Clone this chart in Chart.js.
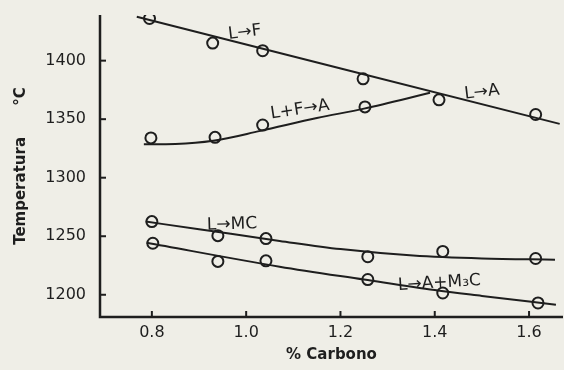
<!DOCTYPE html>
<html>
<head>
<meta charset="utf-8">
<script src="https://cdn.jsdelivr.net/npm/chart.js@4"></script>
<style>
  html,body{margin:0;padding:0;background:#efeee7;}
  #wrap{width:564px;height:370px;position:relative;}
</style>
</head>
<body>
<div id="wrap"><canvas id="c"></canvas></div>
<script>
// measured points (% C, °C)
const lfX=[0.795,0.929,1.035,1.248,1.409,1.614];
const lfY=[1436,1415,1408.5,1384.5,1366.5,1354];
const lfaX=[0.798,0.934,1.035,1.252];
const lfaY=[1334,1334.5,1345,1360.5];
const lmcX=[0.8,0.94,1.042,1.258,1.417,1.614];
const lmcY=[1262.5,1250.5,1248,1232.5,1237,1231];
const lacX=[0.802,0.94,1.042,1.258,1.417,1.619];
const lacY=[1244,1228.5,1229,1213,1201.5,1193];

// hand-drawn fitted curves
const fitLfX=[0.768,1.665];
const fitLfY=[1437.5,1346];
const fitLfaX=[0.783,0.85,0.93,1.03,1.15,1.25,1.39];
const fitLfaY=[1328.5,1328.8,1331.5,1340,1351,1359,1372.5];
const fitLmcX=[0.787,0.9,1.071,1.2,1.354,1.5,1.655];
const fitLmcY=[1262.5,1256,1246,1239,1233.5,1231,1230];
const fitLacX=[0.789,1.071,1.25,1.4,1.5,1.657];
const fitLacY=[1244.4,1224,1213,1204,1199,1191.5];

const xTicks=[0.8,1.0,1.2,1.4,1.6];
const yTicks=[1200,1250,1300,1350,1400];

const labels=[
  {t:"L\u2192F",x:0.997,y:1424,r:-0.12},
  {t:"L+F\u2192A",x:1.114,y:1358,r:-0.15},
  {t:"L\u2192A",x:1.5,y:1373,r:-0.12},
  {t:"L\u2192MC",x:0.97,y:1260,r:-0.03},
  {t:"L\u2192A+M\u2083C",x:1.41,y:1210,r:-0.06}
];

const ink="#1e1e1e";
const paper="#efeee7";
const FONT="'DejaVu Sans', sans-serif";

function pts(xs,ys){ return xs.map((x,i)=>({x:x,y:ys[i]})); }
function fitSet(xs,ys){
  return {type:'line',data:pts(xs,ys),borderColor:ink,borderWidth:2,pointRadius:0,
    cubicInterpolationMode:'monotone',tension:0.4,fill:false};
}
function dotSet(xs,ys){
  return {type:'scatter',data:pts(xs,ys),pointStyle:'circle',pointRadius:5.5,
    pointBorderWidth:2,pointBorderColor:ink,pointBackgroundColor:paper,showLine:false};
}

const decor={
  id:'decor',
  afterDraw(ch){
    const ctx=ch.ctx, xs=ch.scales.x, ys=ch.scales.y, a=ch.chartArea;
    ctx.save();
    // axes
    ctx.strokeStyle=ink; ctx.lineWidth=2.5;
    ctx.beginPath();
    ctx.moveTo(a.left,a.top); ctx.lineTo(a.left,a.bottom); ctx.lineTo(a.right,a.bottom);
    ctx.stroke();
    // inward ticks
    ctx.lineWidth=2;
    yTicks.forEach(v=>{ const p=ys.getPixelForValue(v); ctx.beginPath(); ctx.moveTo(a.left,p); ctx.lineTo(a.left+6,p); ctx.stroke(); });
    xTicks.forEach(v=>{ const p=xs.getPixelForValue(v); ctx.beginPath(); ctx.moveTo(p,a.bottom); ctx.lineTo(p,a.bottom-6); ctx.stroke(); });
    // curve labels
    ctx.fillStyle=ink; ctx.font="17px "+FONT; ctx.textAlign="center"; ctx.textBaseline="middle";
    labels.forEach(l=>{
      ctx.save();
      ctx.translate(xs.getPixelForValue(l.x),ys.getPixelForValue(l.y));
      ctx.rotate(l.r);
      ctx.fillText(l.t,0,0);
      ctx.restore();
    });
    ctx.restore();
  }
};

new Chart(document.getElementById('c'),{
  data:{datasets:[
    fitSet(fitLfX,fitLfY),fitSet(fitLfaX,fitLfaY),fitSet(fitLmcX,fitLmcY),fitSet(fitLacX,fitLacY),
    dotSet(lfX,lfY),dotSet(lfaX,lfaY),dotSet(lmcX,lmcY),dotSet(lacX,lacY)
  ]},
  options:{
    responsive:true,maintainAspectRatio:false,animation:false,
    layout:{autoPadding:false,padding:{top:15,right:1,left:0,bottom:0}},
    plugins:{legend:{display:false},tooltip:{enabled:false}},
    scales:{
      x:{type:'linear',min:0.69,max:1.672,
        afterBuildTicks:s=>{ s.ticks=xTicks.map(v=>({value:v})); },
        afterFit:s=>{ s.height=53; s.paddingLeft=0; s.paddingRight=0; },
        grid:{display:false,drawTicks:false},border:{display:false},
        ticks:{color:ink,padding:6,font:{family:FONT,size:16},callback:v=>Number(v).toFixed(1)},
        title:{display:true,text:"% Carbono",color:ink,font:{family:FONT,size:15,weight:'bold'},padding:{top:4,bottom:6}}
      },
      y:{type:'linear',min:1181,max:1439,
        afterBuildTicks:s=>{ s.ticks=yTicks.map(v=>({value:v})); },
        afterFit:s=>{ s.width=100; s.paddingTop=0; s.paddingBottom=0; },
        grid:{display:false,drawTicks:false},border:{display:false},
        ticks:{color:ink,padding:14,font:{family:FONT,size:16},callback:v=>String(v)},
        title:{display:true,text:"Temperatura      \u00b0C",color:ink,font:{family:FONT,size:15,weight:'bold'},padding:{top:12,bottom:0}}
      }
    }
  },
  plugins:[decor]
});
</script>
</body>
</html>
